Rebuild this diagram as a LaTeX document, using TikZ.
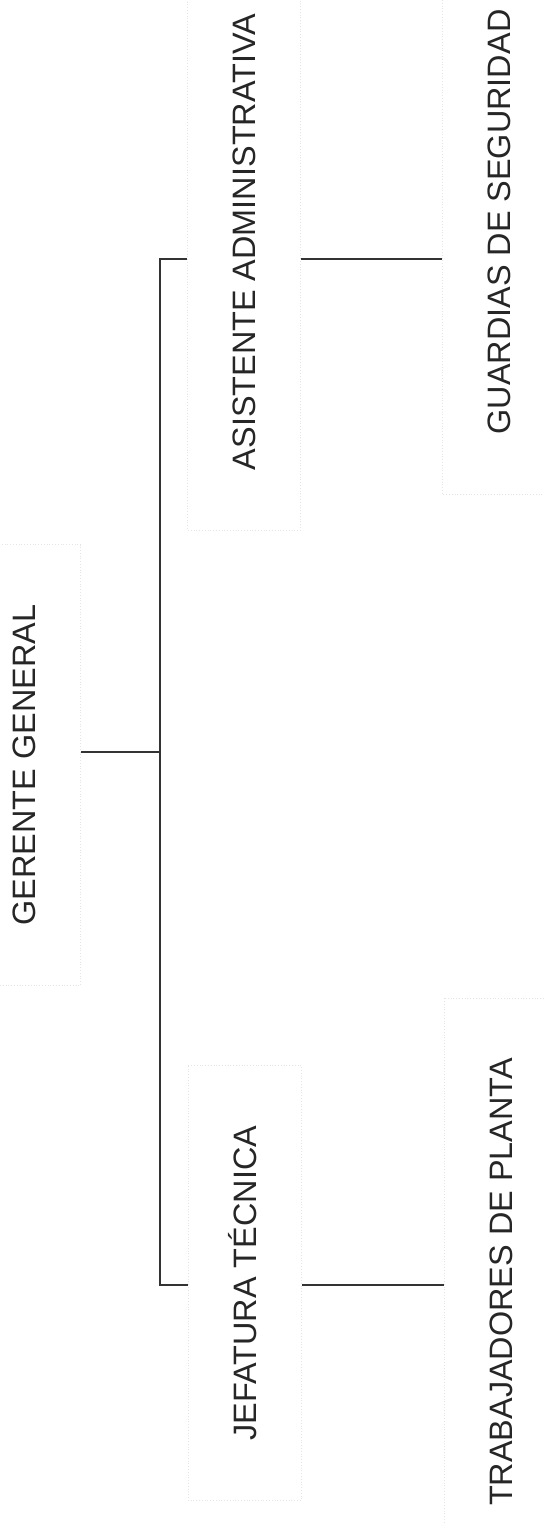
\documentclass[tikz,border=0pt]{standalone}
\usepackage{fontspec}
\setmainfont{Liberation Sans}
\tikzset{
	puesto/.style={rotate=90, draw=black!10, densely dotted, line width=0.4pt,
		text=black!85, font=\fontsize{16.2pt}{19pt}\selectfont,
		text height=11.7pt, text depth=0pt, inner xsep=30pt, inner ysep=22.5pt},
	enlace/.style={black!80, line width=0.7pt}
}
\begin{document}
\begin{tikzpicture}[x=0.5pt, y=-0.5pt]
		\useasboundingbox (0,0) rectangle (543,1524);

		\node[puesto] (gerente) at (24,765) {GERENTE GENERAL};
		\node[puesto] (asistente) at (244,242) {ASISTENTE ADMINISTRATIVA};
		\node[puesto] (jefatura) at (245,1283) {JEFATURA TÉCNICA};
		\node[puesto] (guardias) at (499,222) {GUARDIAS DE SEGURIDAD};
		\node[puesto] (trabajadores) at (501,1282) {TRABAJADORES DE PLANTA};

		\coordinate (arriba) at (160,259);
		\coordinate (medio) at (160,752);
		\coordinate (abajo) at (160,1285);

		\draw[enlace] (gerente.south |- medio) -- (medio);
		\draw[enlace] (asistente.north |- arriba) -- (arriba) -- (abajo) -- (jefatura.north |- abajo);
		%\fill[black] (medio) circle (2);

		\draw[enlace] (asistente.south |- arriba) -- (guardias.north |- arriba);
		\draw[enlace] (jefatura.south |- abajo) -- (trabajadores.north |- abajo);
	\end{tikzpicture}
\end{document}
